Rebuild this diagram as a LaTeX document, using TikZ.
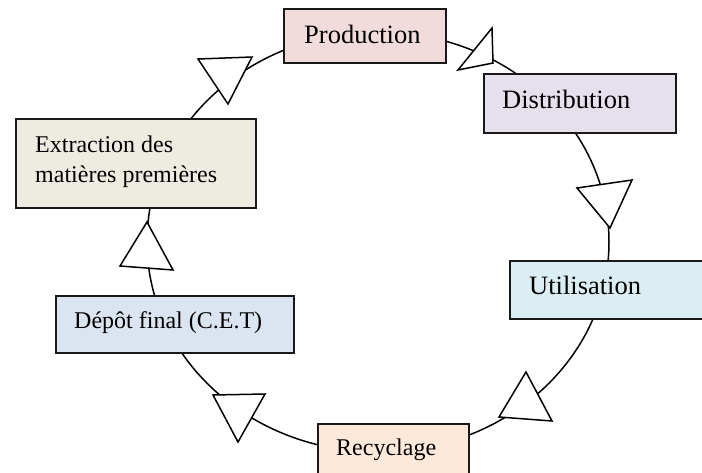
\documentclass[tikz,border=0pt]{standalone}
\usepackage{fontspec}
\setmainfont{Liberation Serif}
\definecolor{cprod}{HTML}{F2DCDB}
\definecolor{cdist}{HTML}{E5E0EC}
\definecolor{cextr}{HTML}{EEECE1}
\definecolor{cutil}{HTML}{DBEEF3}
\definecolor{cdepo}{HTML}{DBE5F1}
\definecolor{crecy}{HTML}{FDE9D9}
\tikzset{
  box/.style={draw=black!90, line width=1.6pt, rectangle, inner sep=0pt, anchor=north west},
  big/.style={inner sep=0pt, anchor=base west, font=\fontsize{26.5}{30}\selectfont},
  small/.style={inner sep=0pt, anchor=base west, font=\fontsize{24}{30}\selectfont},
  cycleline/.style={line width=1.5pt, black},
  tip/.style={line width=1.5pt, fill=white, line join=miter},
}
\begin{document}
\begin{tikzpicture}[x=1pt,y=-1pt]
\useasboundingbox (0,0) rectangle (702,472);
\clip (0,0) rectangle (702,472);
% cycle
\draw[cycleline] (378,242) ellipse [x radius=231, y radius=210];
% arrow triangles
\draw[tip] (492,28) -- (493,63) -- (458,70) -- cycle;
\draw[tip] (577,188) -- (632,180) -- (610,228) -- cycle;
\draw[tip] (526,372) -- (552,421) -- (499,417) -- cycle;
\draw[tip] (213,395) -- (265,394) -- (238,442) -- cycle;
\draw[tip] (147,222) -- (120,266) -- (173,270) -- cycle;
\draw[tip] (198,59) -- (252,57) -- (228,104) -- cycle;
% boxes
\node[box, fill=cprod, minimum width=162pt, minimum height=54pt] (prod) at (283,8) {};
\node[box, fill=cdist, minimum width=192pt, minimum height=59pt] (dist) at (483,73) {};
\node[box, fill=cextr, minimum width=240pt, minimum height=89pt] (extr) at (15,118) {};
\node[box, fill=cutil, minimum width=220pt, minimum height=58pt] (util) at (509,260) {};
\node[box, fill=cdepo, minimum width=238pt, minimum height=57pt] (depo) at (55,295) {};
\node[box, fill=crecy, minimum width=151pt, minimum height=60pt] (recy) at (317,423) {};
% labels
\node[big] (prodt) at (304,43) {Production};
\node[big] (distt) at (502,108) {Distribution};
\node[small] (extrt1) at (35,152) {Extraction des};
\node[small] (extrt2) at (35,182) {matières premières};
\node[big] (utilt) at (529,294) {Utilisation};
\node[small] (depot) at (74,328) {Dépôt final (C.E.T)};
\node[small] (recyt) at (336,455) {Recyclage};
\end{tikzpicture}
\end{document}
